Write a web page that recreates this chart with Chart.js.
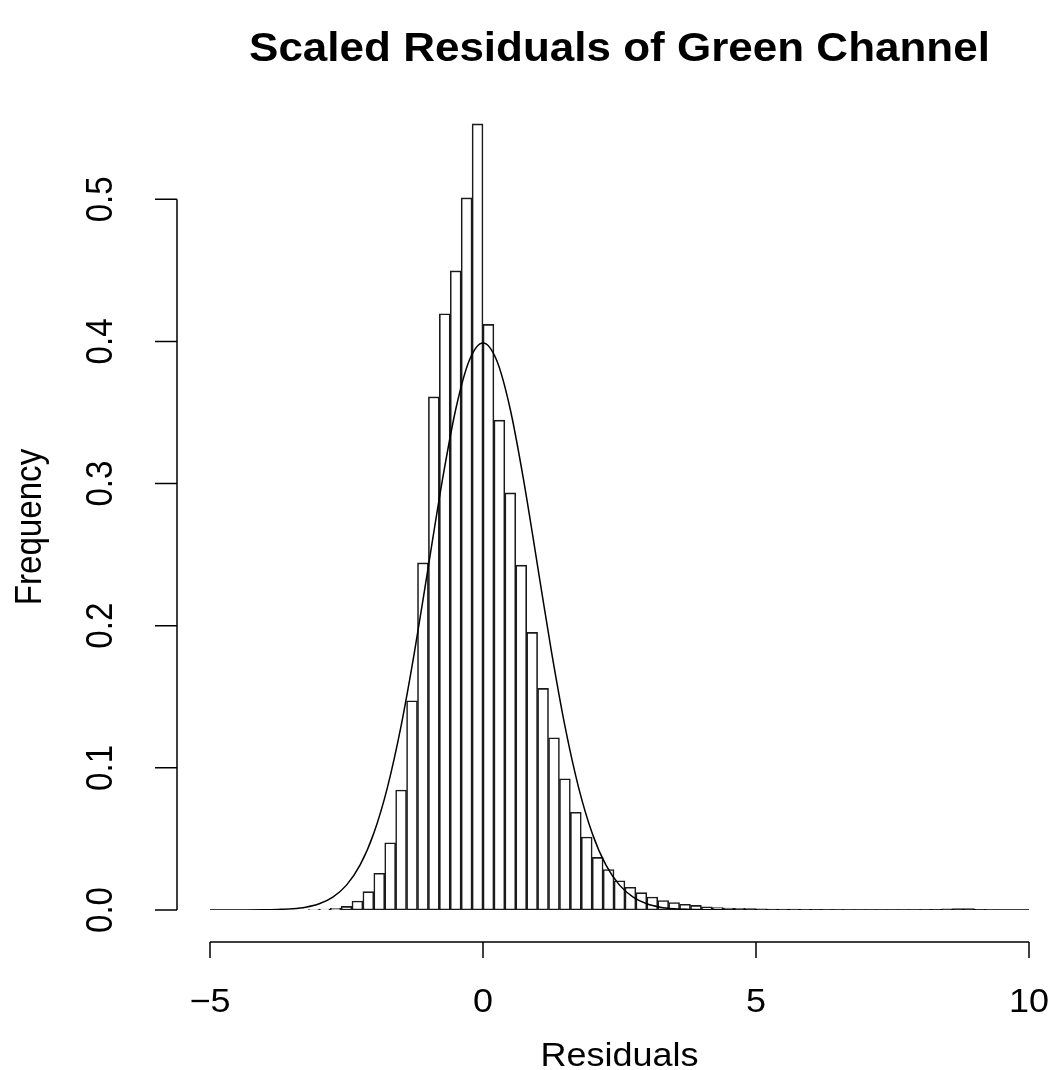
<!DOCTYPE html>
<html>
<head>
<meta charset="utf-8">
<script src="https://cdn.jsdelivr.net/npm/chart.js@4.4.1/dist/chart.umd.min.js"></script>
<style>
  html, body { margin: 0; padding: 0; background: #fff; }
  #wrap { width: 1052px; height: 1070px; }
</style>
</head>
<body>
<div id="wrap"><canvas id="histChart" width="1052" height="1070"></canvas></div>
<script>
// histogram bins (left edge of each 0.2-wide bin) and their densities
const binStarts = [
  -3.2, -3.0, -2.8, -2.6, -2.4, -2.2, -2.0, -1.8, -1.6, -1.4, -1.2, -1.0, -0.8, -0.6, -0.4, -0.2,
  0.0, 0.2, 0.4, 0.6, 0.8, 1.0, 1.2, 1.4, 1.6, 1.8, 2.0, 2.2, 2.4, 2.6, 2.8, 3.0, 3.2, 3.4, 3.6, 3.8,
  4.0, 4.2, 4.4, 4.6, 4.8, 5.0, 5.2, 5.4, 5.6, 5.8, 6.0, 6.2, 6.4, 6.6, 6.8, 7.0, 7.2, 7.4, 7.6, 7.8,
  8.0, 8.2, 8.4, 8.6, 8.8, 9.0, 9.2
];
const binWidth = 0.2;
const density = [
  0.0003, 0.0006, 0.0012, 0.0025, 0.0063, 0.0129, 0.0258, 0.0473, 0.0844, 0.1472, 0.2442, 0.361, 0.4195, 0.4496, 0.501, 0.553,
  0.412, 0.3446, 0.2934, 0.2426, 0.1953, 0.1559, 0.1212, 0.0923, 0.0687, 0.0513, 0.037, 0.0285, 0.0206, 0.016, 0.0122, 0.0091, 0.0067, 0.0053, 0.004, 0.0032,
  0.0022, 0.0017, 0.0014, 0.0012, 0.001, 0.0008, 0.0007, 0.0006, 0.0006, 0.0005, 0.0004, 0.0003, 0.0003, 0.0002, 0.0002, 0.0002, 0.0002, 0.0002, 0.0002, 0.0002,
  0.0003, 0.0004, 0.0008, 0.001, 0.001, 0.0004, 0.0001
];

// overlaid normal curve
const curveX = [
  -5, -4.5, -4, -3.75, -3.5, -3.25, -3, -2.75, -2.5, -2.25, -2, -1.75, -1.5, -1.25, -1, -0.75, -0.5, -0.25,
  0, 0.25, 0.5, 0.75, 1, 1.25, 1.5, 1.75, 2, 2.25, 2.5, 2.75, 3, 3.25, 3.5, 3.75, 4, 4.5, 5, 6, 7, 8, 9, 10
];
const curveY = [
  0, 0, 0.0001, 0.0004, 0.0009, 0.002, 0.0044, 0.0091, 0.0175, 0.0317, 0.054, 0.0863, 0.1295, 0.1826, 0.242, 0.3011, 0.3521, 0.3867,
  0.3989, 0.3867, 0.3521, 0.3011, 0.242, 0.1826, 0.1295, 0.0863, 0.054, 0.0317, 0.0175, 0.0091, 0.0044, 0.002, 0.0009, 0.0004, 0.0001, 0, 0, 0, 0, 0, 0, 0
];

const xTicks = [-5, 0, 5, 10];
const yTicks = [0.0, 0.1, 0.2, 0.3, 0.4, 0.5];
const titleText = 'Scaled Residuals of Green Channel';
const xLabel = 'Residuals';
const yLabel = 'Frequency';

const FONT = '"Liberation Sans", Arial, Helvetica, sans-serif';
const SQUASH = 0.92; // the reference text is a little flatter than it is wide

function hText(ctx, s, x, y) {
  ctx.save();
  ctx.translate(x, y);
  ctx.scale(1, SQUASH);
  ctx.fillText(s, 0, 0);
  ctx.restore();
}

function vText(ctx, s, x, y) {
  ctx.save();
  ctx.translate(x, y);
  ctx.rotate(-Math.PI / 2);
  ctx.scale(SQUASH, 1);
  ctx.fillText(s, 0, 0);
  ctx.restore();
}

// R style axes, drawn off the plot area
const rAxes = {
  id: 'rAxes',
  afterDraw(chart) {
    const { ctx, scales } = chart;
    const xs = scales.x, ys = scales.y;
    ctx.save();
    ctx.strokeStyle = '#000';
    ctx.fillStyle = '#000';
    ctx.lineWidth = 1.5;

    // x axis
    const axY = 942;
    ctx.beginPath();
    ctx.moveTo(xs.getPixelForValue(xTicks[0]), axY);
    ctx.lineTo(xs.getPixelForValue(xTicks[xTicks.length - 1]), axY);
    xTicks.forEach(t => {
      const px = xs.getPixelForValue(t);
      ctx.moveTo(px, axY);
      ctx.lineTo(px, axY + 16);
    });
    ctx.stroke();
    ctx.font = '36px ' + FONT;
    ctx.textAlign = 'center';
    ctx.textBaseline = 'alphabetic';
    xTicks.forEach(t => {
      const s = t < 0 ? '\u2212' + Math.abs(t) : String(t);
      hText(ctx, s, xs.getPixelForValue(t), 1012);
    });

    // y axis
    const axX = 177;
    ctx.beginPath();
    ctx.moveTo(axX, ys.getPixelForValue(yTicks[0]));
    ctx.lineTo(axX, ys.getPixelForValue(yTicks[yTicks.length - 1]));
    yTicks.forEach(t => {
      const py = ys.getPixelForValue(t);
      ctx.moveTo(axX, py);
      ctx.lineTo(axX - 22, py);
    });
    ctx.stroke();
    yTicks.forEach(t => {
      vText(ctx, t.toFixed(1), 112, ys.getPixelForValue(t));
    });

    // axis titles
    const midX = (chart.chartArea.left + chart.chartArea.right) / 2;
    hText(ctx, xLabel, midX, 1066);
    vText(ctx, yLabel, 41, 527);

    // main title
    ctx.font = 'bold 44px ' + FONT;
    hText(ctx, titleText, midX, 61);
    ctx.restore();
  }
};

const ctx = document.getElementById('histChart').getContext('2d');
new Chart(ctx, {
  type: 'bar',
  data: {
    datasets: [
      {
        type: 'line',
        data: curveX.map((x, i) => ({ x: x, y: curveY[i] })),
        borderColor: '#000',
        borderWidth: 1.5,
        pointRadius: 0,
        cubicInterpolationMode: 'monotone',
        fill: false,
        order: 0
      },
      {
        type: 'bar',
        data: binStarts.map((b, i) => ({ x: b + binWidth / 2, y: density[i] })),
        backgroundColor: '#fff',
        borderColor: '#1a1a1a',
        borderWidth: 1.6,
        borderSkipped: false,
        barPercentage: 1,
        categoryPercentage: 1,
        grouped: false,
        order: 1
      }
    ]
  },
  options: {
    responsive: false,
    animation: false,
    layout: { padding: { left: 210, right: 23, top: 114, bottom: 160 } },
    scales: {
      x: { type: 'linear', min: -5, max: 10, display: false, offset: false },
      y: { type: 'linear', min: 0, max: 0.56, display: false }
    },
    plugins: {
      legend: { display: false },
      tooltip: { enabled: false },
      title: { display: false }
    }
  },
  plugins: [rAxes]
});
</script>
</body>
</html>
